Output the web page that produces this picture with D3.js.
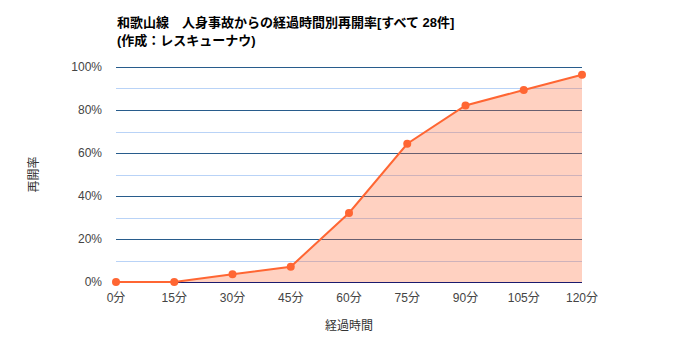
<!DOCTYPE html>
<html>
<head>
<meta charset="utf-8">
<script src="https://cdn.jsdelivr.net/npm/d3@7"></script>
<style>
  body { margin: 0; background: #fff; }
  text { font-family: Arial, "Liberation Sans", "Noto Sans CJK JP", sans-serif; }
</style>
</head>
<body>
<div id="chart"></div>
<script>
// 経過時間 (分) と再開率 (%)
const categories = ['0分', '15分', '30分', '45分', '60分', '75分', '90分', '105分', '120分'];
const rates = [0, 0, 3.6, 7.1, 32.1, 64.3, 82.1, 89.3, 96.4];
const yTicks = [0, 20, 40, 60, 80, 100];
const yMinor = [10, 30, 50, 70, 90];

const width = 699, height = 349;
const margin = { top: 67, right: 117, bottom: 67, left: 116 };
const w = width - margin.left - margin.right,
      h = height - margin.top - margin.bottom;

const svg = d3.select('#chart').append('svg')
    .attr('width', width)
    .attr('height', height);

// タイトル
const title = svg.append('text')
    .attr('x', 117).attr('y', 27)
    .attr('font-size', 13).attr('font-weight', 'bold').attr('fill', '#000');
title.append('tspan').attr('x', 117).text('和歌山線　人身事故からの経過時間別再開率[すべて 28件]');
title.append('tspan').attr('x', 117).attr('dy', 18).text('(作成：レスキューナウ)');

const g = svg.append('g').attr('transform', `translate(${margin.left},${margin.top})`);

const x = d3.scalePoint().domain(categories).range([0, w]);
const y = d3.scaleLinear().domain([0, 100]).range([h, 0]);
const yc = v => Math.round(y(v)) + 0.5;

// 補助線
g.selectAll('line.minor')
    .data(yMinor)
    .enter().append('line')
    .attr('class', 'minor')
    .attr('x1', 0).attr('x2', w)
    .attr('y1', yc).attr('y2', yc)
    .attr('stroke', '#b9d3f7').attr('stroke-width', 1);

g.selectAll('line.major')
    .data(yTicks.filter(d => d > 0))
    .enter().append('line')
    .attr('class', 'major')
    .attr('x1', 0).attr('x2', w)
    .attr('y1', yc).attr('y2', yc)
    .attr('stroke', '#285c8c').attr('stroke-width', 1);

const data = categories.map((c, i) => ({ c: c, v: rates[i] }));

// 面
const area = d3.area()
    .x(d => x(d.c))
    .y0(y(0))
    .y1(d => y(d.v));
g.append('path')
    .datum(data)
    .attr('d', area)
    .attr('fill', '#ff6633')
    .attr('fill-opacity', 0.3);

// 基準線
g.append('line')
    .attr('x1', 0).attr('x2', w)
    .attr('y1', yc(0)).attr('y2', yc(0))
    .attr('stroke', '#1a1a6e').attr('stroke-width', 1);

// 折れ線
const line = d3.line().x(d => x(d.c)).y(d => y(d.v));
g.append('path')
    .datum(data)
    .attr('d', line)
    .attr('fill', 'none')
    .attr('stroke', '#ff6633')
    .attr('stroke-width', 2);

g.selectAll('circle')
    .data(data)
    .enter().append('circle')
    .attr('cx', d => x(d.c))
    .attr('cy', d => y(d.v))
    .attr('r', 4)
    .attr('fill', '#ff6633');

// Y軸ラベル
g.selectAll('text.ylab')
    .data(yTicks)
    .enter().append('text')
    .attr('class', 'ylab')
    .attr('x', -14)
    .attr('y', d => y(d))
    .attr('dy', '0.35em')
    .attr('text-anchor', 'end')
    .attr('font-size', 12)
    .attr('fill', '#444')
    .text(d => d + '%');

// X軸ラベル
g.selectAll('text.xlab')
    .data(categories)
    .enter().append('text')
    .attr('class', 'xlab')
    .attr('x', d => x(d))
    .attr('y', h + 20)
    .attr('text-anchor', 'middle')
    .attr('font-size', 12)
    .attr('fill', '#444')
    .text(d => d);

// 軸タイトル
svg.append('text')
    .attr('x', margin.left + w / 2)
    .attr('y', 330)
    .attr('text-anchor', 'middle')
    .attr('font-size', 12)
    .attr('fill', '#333')
    .text('経過時間');

svg.append('text')
    .attr('transform', `translate(38,${margin.top + h / 2}) rotate(-90)`)
    .attr('text-anchor', 'middle')
    .attr('font-size', 12)
    .attr('fill', '#333')
    .text('再開率');
</script>
</body>
</html>
